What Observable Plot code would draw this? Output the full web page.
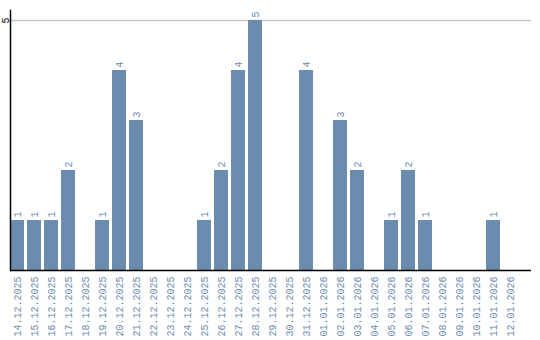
<!DOCTYPE html>
<html>
<head>
<meta charset="utf-8">
<script src="https://cdn.jsdelivr.net/npm/d3@7"></script>
<script src="https://cdn.jsdelivr.net/npm/@observablehq/plot@0.6"></script>
<style>
  body { margin: 0; background: #fff; }
  svg { display: block; }
</style>
</head>
<body>
<div id="chart"></div>
<script>
const dates = ["14.12.2025","15.12.2025","16.12.2025","17.12.2025","18.12.2025","19.12.2025","20.12.2025","21.12.2025","22.12.2025","23.12.2025","24.12.2025","25.12.2025","26.12.2025","27.12.2025","28.12.2025","29.12.2025","30.12.2025","31.12.2025","01.01.2026","02.01.2026","03.01.2026","04.01.2026","05.01.2026","06.01.2026","07.01.2026","08.01.2026","09.01.2026","10.01.2026","11.01.2026","12.01.2026"];
const counts = [1,1,1,2,0,1,4,3,0,0,0,1,2,4,5,0,0,4,0,3,2,0,1,2,1,0,0,0,1,0];
const yTicks = [5];

const data = dates.map((d, i) => ({date: d, count: counts[i]}));
const nonZero = data.filter(d => d.count > 0);
const barColor = "#6a8caf";

const chart = Plot.plot({
  width: 540,
  height: 340,
  marginLeft: 10,
  marginRight: 9,
  marginTop: 10,
  marginBottom: 70,
  style: {fontFamily: "'Liberation Mono', 'DejaVu Sans Mono', monospace", fontSize: "10px", background: "#fff"},
  x: {domain: dates, paddingInner: 0.176, paddingOuter: 0.41, align: 0, label: null},
  y: {domain: [0, 5.2], label: null, axis: null},
  marks: [
    Plot.gridY(yTicks, {stroke: "#c8c8c8", strokeOpacity: 1, strokeWidth: 1.5}),
    Plot.barY(data, {x: "date", y: "count", fill: barColor}),
    Plot.text(nonZero, {x: "date", y: "count", text: d => String(d.count), rotate: -90, textAnchor: "start", dy: -3, fill: barColor, fontSize: 10}),
    Plot.axisX({tickSize: 0, tickRotate: -90, tickPadding: 6, fill: barColor, label: null, fontSize: 10}),
    Plot.text(yTicks, {y: d => d, text: d => String(d), frameAnchor: "left", dx: -5, rotate: -90, textAnchor: "middle", fill: "#000", fontSize: 10}),
    Plot.frame({anchor: "left", stroke: "#000", strokeWidth: 1.5}),
    Plot.ruleY([0], {stroke: "#000", strokeWidth: 1.5})
  ]
});
document.getElementById("chart").appendChild(chart);
</script>
</body>
</html>
